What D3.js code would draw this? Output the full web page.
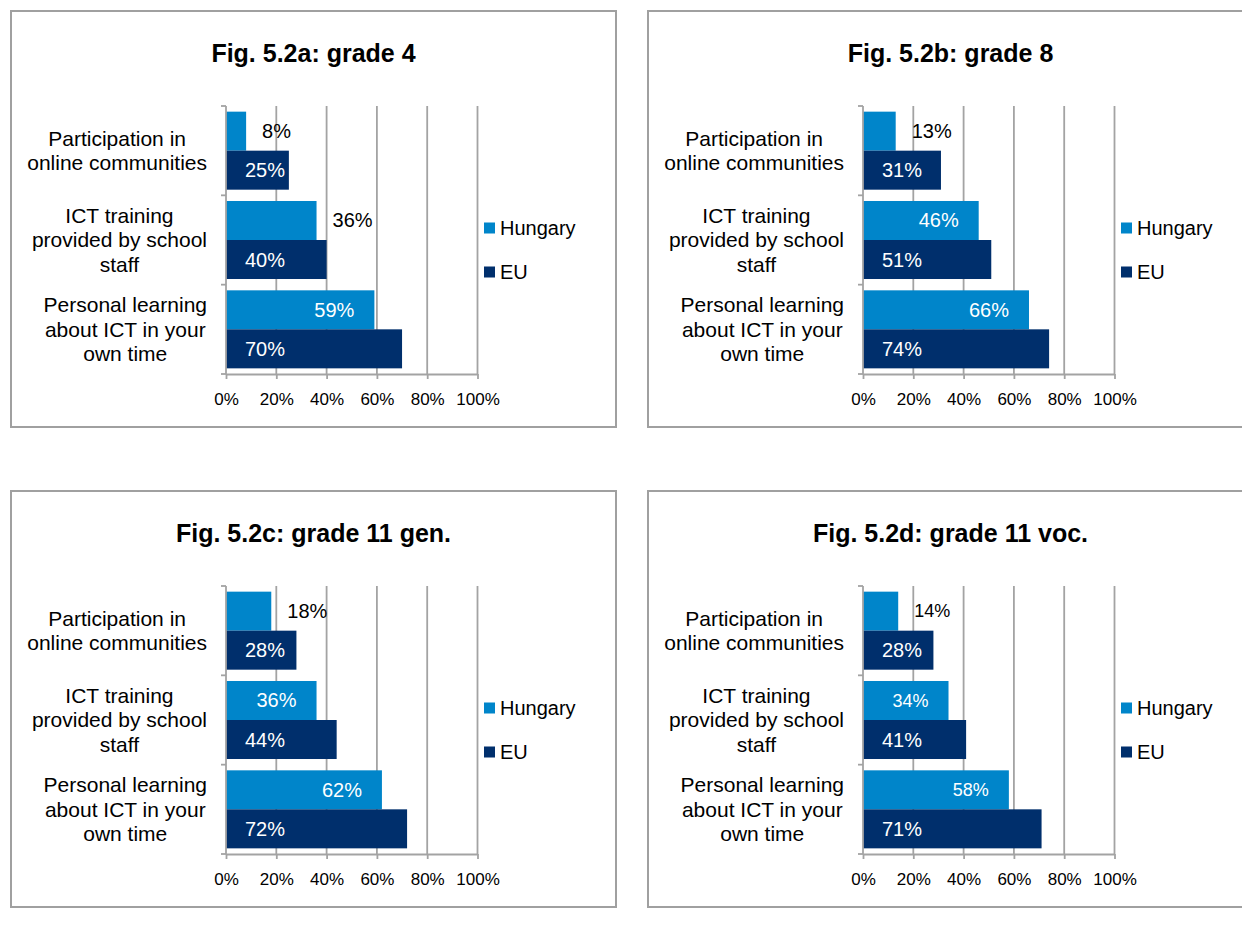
<!DOCTYPE html>
<html>
<head>
<meta charset="utf-8">
<script src="https://cdn.jsdelivr.net/npm/d3@7/dist/d3.min.js"></script>
<style>
  html, body { margin: 0; padding: 0; background: #fff; }
  svg { display: block; font-family: "Liberation Sans", Arial, sans-serif; }
</style>
</head>
<body>
<svg id="chart" width="1242" height="933"></svg>
<script>
// ---------- data ----------
const categories = [
  ["Participation in", "online communities"],
  ["ICT training", "provided by school", "staff"],
  ["Personal learning", "about ICT in your", "own time"]
];
const seriesNames = ["Hungary", "EU"];
const titles = [
  "Fig. 5.2a: grade 4",
  "Fig. 5.2b: grade 8",
  "Fig. 5.2c: grade 11 gen.",
  "Fig. 5.2d: grade 11 voc."
];
const hungaryValues = [
  [8, 36, 59],
  [13, 46, 66],
  [18, 36, 62],
  [14, 34, 58]
];
const euValues = [
  [25, 40, 70],
  [31, 51, 74],
  [28, 44, 72],
  [28, 41, 71]
];
const tickValues = [0, 20, 40, 60, 80, 100];
// Hungary labels drawn outside the bar end (true) or inside the end (false)
const hungaryLabelOutside = [
  [true, true, false],
  [true, false, false],
  [true, false, false],
  [true, false, false]
];

// ---------- layout / style ----------
const colors = { Hungary: "#0085CA", EU: "#002F6C" };
const gridColor = "#a3a3a3";
const panelW = 605, panelH = 416;
const panelOrigins = [[11, 11], [648, 11], [11, 491], [648, 491]];
const plot = { x0: 215, x1: 466.5, y0: 95, y1: 363 };
const hungaryLabelSize = [20, 20, 20, 18];

const svg = d3.select("#chart");
svg.append("rect").attr("width", 1242).attr("height", 933).attr("fill", "#fff");

const x = d3.scaleLinear().domain([0, 100]).range([plot.x0, plot.x1]);
const yCat = d3.scaleBand().domain(d3.range(categories.length)).range([plot.y0, plot.y1]).padding(0);
const ySer = d3.scaleBand().domain(seriesNames).range([0, yCat.bandwidth()]).paddingInner(0).paddingOuter(0.145);

titles.forEach((title, pi) => {
  const [ox, oy] = panelOrigins[pi];
  const g = svg.append("g").attr("transform", `translate(${ox},${oy})`);

  // border
  g.append("rect").attr("x", 0).attr("y", 0).attr("width", panelW).attr("height", panelH)
    .attr("fill", "#fff").attr("stroke", "#a0a0a0").attr("stroke-width", 2);

  // title
  g.append("text").attr("x", panelW / 2).attr("y", 51)
    .attr("text-anchor", "middle").attr("font-weight", "bold").attr("font-size", 25)
    .attr("fill", "#000").text(title);

  // gridlines
  g.selectAll("line.grid").data(tickValues.filter(d => d > 0)).enter().append("line")
    .attr("x1", d => x(d)).attr("x2", d => x(d))
    .attr("y1", plot.y0).attr("y2", plot.y1)
    .attr("stroke", gridColor).attr("stroke-width", 1.8);

  // bars
  const rows = categories.map((c, i) => ({
    i,
    vals: { Hungary: hungaryValues[pi][i], EU: euValues[pi][i] }
  }));
  rows.forEach(r => {
    seriesNames.forEach(s => {
      const v = r.vals[s];
      const by = yCat(r.i) + ySer(s);
      const bh = ySer.bandwidth();
      g.append("rect").attr("x", x(0)).attr("y", by)
        .attr("width", x(v) - x(0)).attr("height", bh)
        .attr("fill", colors[s]);
      const cy = by + bh / 2;
      const lbl = g.append("text").attr("y", cy).attr("dy", "0.35em").text(v + "%");
      if (s === "EU") {
        lbl.attr("x", x(0) + 19).attr("text-anchor", "start")
          .attr("font-size", 20).attr("fill", "#fff");
      } else {
        lbl.attr("font-size", hungaryLabelSize[pi]);
        if (hungaryLabelOutside[pi][r.i]) {
          lbl.attr("x", x(v) + 16).attr("text-anchor", "start").attr("fill", "#000");
        } else {
          lbl.attr("x", x(v) - 20).attr("text-anchor", "end").attr("fill", "#fff");
        }
      }
    });
  });

  // y axis line + ticks at band boundaries
  g.append("line").attr("x1", x(0)).attr("x2", x(0)).attr("y1", plot.y0).attr("y2", plot.y1)
    .attr("stroke", gridColor).attr("stroke-width", 1.8);
  const bounds = d3.range(categories.length).map(i => yCat(i)).concat([yCat(categories.length - 1) + yCat.bandwidth()]);
  g.selectAll("line.ytick").data(bounds).enter().append("line")
    .attr("x1", x(0) - 5).attr("x2", x(0)).attr("y1", d => d).attr("y2", d => d)
    .attr("stroke", gridColor).attr("stroke-width", 1.8);

  // x axis
  const xa = g.append("g").attr("transform", `translate(0,${plot.y1})`)
    .call(d3.axisBottom(x).tickValues(tickValues).tickFormat(d => d + "%").tickSize(5).tickPadding(14).tickSizeOuter(0));
  xa.select(".domain").attr("stroke", gridColor).attr("stroke-width", 1.8);
  xa.selectAll(".tick line").attr("stroke", gridColor).attr("stroke-width", 1.8);
  xa.selectAll(".tick text").attr("font-size", 17).attr("fill", "#000")
    .attr("font-family", "\"Liberation Sans\", Arial, sans-serif");

  // category labels: block right-aligned, lines centred within block
  categories.forEach((lines, i) => {
    const cy = yCat(i) + yCat.bandwidth() / 2;
    const lh = 24.5;
    const texts = lines.map((ln, k) =>
      g.append("text").attr("font-size", 21).attr("fill", "#000")
        .attr("text-anchor", "middle")
        .attr("y", cy + (k - (lines.length - 1) / 2) * lh).attr("dy", "0.35em")
        .text(ln));
    const maxW = d3.max(texts, t => t.node().getComputedTextLength());
    const right = 196;
    texts.forEach(t => t.attr("x", right - maxW / 2));
  });

  // legend
  seriesNames.forEach((s, k) => {
    const cy = 217 + k * 44;
    g.append("rect").attr("x", 473).attr("y", cy - 5.5).attr("width", 11).attr("height", 11)
      .attr("fill", colors[s]);
    g.append("text").attr("x", 489).attr("y", cy).attr("dy", "0.36em")
      .attr("font-size", 20).attr("fill", "#000").text(s);
  });
});
</script>
</body>
</html>
